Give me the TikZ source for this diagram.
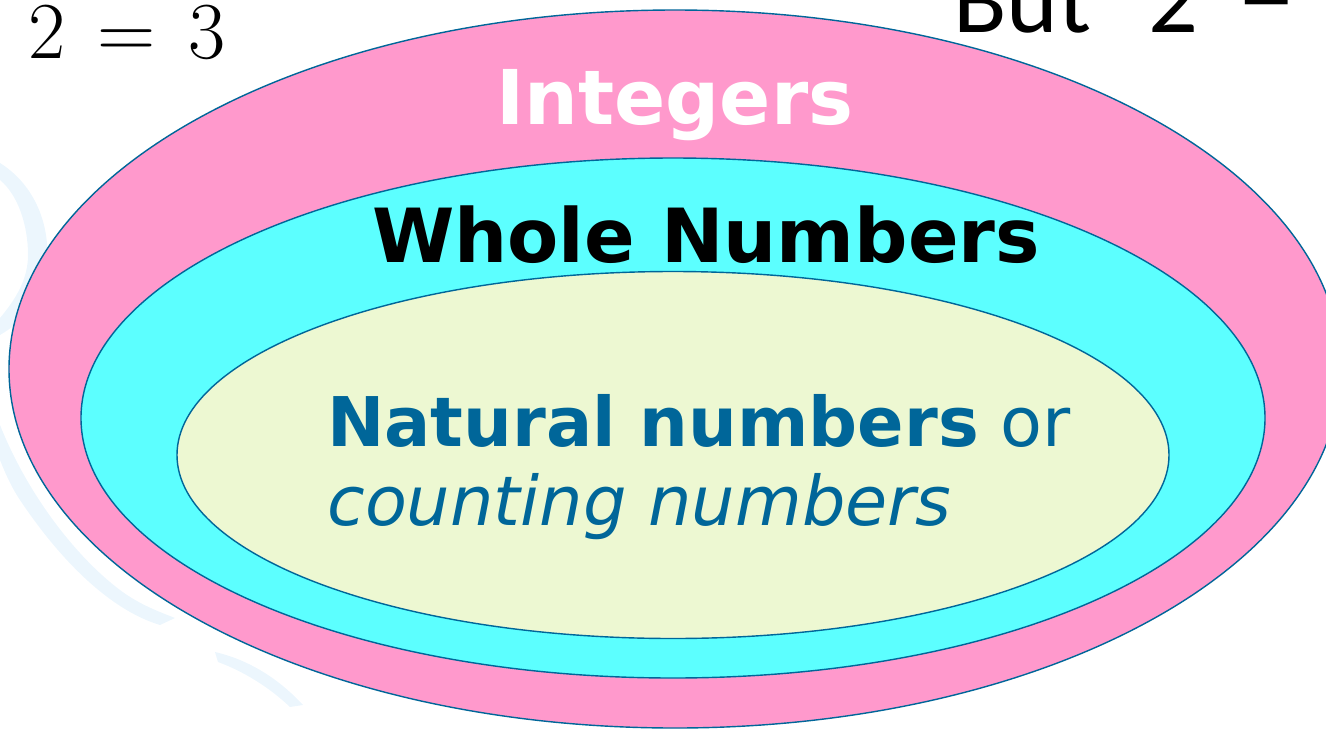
\documentclass[tikz,border=0pt]{standalone}
\usepackage{fontspec}
\setmainfont{DejaVu Sans}
\newfontfamily\calib{Carlito}
\newfontfamily\lmroman{Latin Modern Roman}
\usetikzlibrary{shapes.geometric}
\definecolor{pinkfill}{RGB}{255,153,204}
\definecolor{cyanfill}{RGB}{92,255,255}
\definecolor{greenfill}{RGB}{237,248,210}
\definecolor{rimblue}{RGB}{0,102,153}
\definecolor{textblue}{RGB}{0,102,153}
\definecolor{swirl}{RGB}{236,246,253}
\tikzset{
  setoval/.style={ellipse, draw=rimblue, line width=0.8pt, inner sep=0pt},
  labeltext/.style={inner sep=0pt, anchor=base},
}
\begin{document}
\begin{tikzpicture}[x=0.02cm,y=-0.02cm]
\useasboundingbox (0,0) rectangle (1326,731);
% faint background swirls
\fill[swirl] (0,163) .. controls (35,185) and (50,225) .. (47,262)
  .. controls (44,300) and (25,320) .. (0,335) -- (0,318)
  .. controls (15,300) and (28,280) .. (28,255)
  .. controls (28,225) and (18,195) .. (0,180) -- cycle;
\fill[swirl] (0,425) .. controls (30,500) and (80,560) .. (120,590)
  .. controls (140,605) and (160,612) .. (175,618) -- (160,625)
  .. controls (110,610) and (60,560) .. (20,500)
  .. controls (10,485) and (4,470) .. (0,460) -- cycle;
\fill[swirl] (215,652) .. controls (250,660) and (280,680) .. (303,705)
  -- (290,707) .. controls (270,688) and (245,672) .. (218,662) -- cycle;
% nested sets
\node[setoval, fill=pinkfill, minimum width=1332*0.02cm, minimum height=718*0.02cm] (int) at (675,369) {};
\node[setoval, fill=cyanfill, minimum width=1184*0.02cm, minimum height=520*0.02cm] (whole) at (673,418) {};
\node[setoval, fill=greenfill, minimum width=992*0.02cm, minimum height=367*0.02cm] (nat) at (673,455) {};
% labels
\node[labeltext, text=white, font=\fontsize{43}{48}\selectfont\bfseries] (tint) at (675,124) {Integers};
\node[labeltext, text=black, font=\fontsize{42.5}{48}\selectfont\bfseries] (twhole) at (706,262) {Whole Numbers};
\node[labeltext, anchor=base west, text=textblue, font=\fontsize{39}{44}\selectfont] (tnat) at (327,446) {\textbf{Natural numbers} or};
\node[labeltext, anchor=base west, text=textblue, font=\fontsize{39}{44}\selectfont\itshape] (tcount) at (327,525) {counting numbers};
% top texts
\node[labeltext, anchor=base west, font=\lmroman\fontsize{46}{52}\selectfont] (eq) at (28,58) {2\hspace{0.4em}=\hspace{0.4em}3};
\node[labeltext, anchor=base west, font=\calib\fontsize{56}{60}\selectfont] (but) at (953,32) {But};
\node[labeltext, anchor=base west, font=\calib\fontsize{56}{60}\selectfont] (two) at (1148,32) {2};
\node[labeltext, anchor=base west, font=\calib\fontsize{60}{64}\selectfont] (eqs) at (1240,26) {=};
\end{tikzpicture}
\end{document}
